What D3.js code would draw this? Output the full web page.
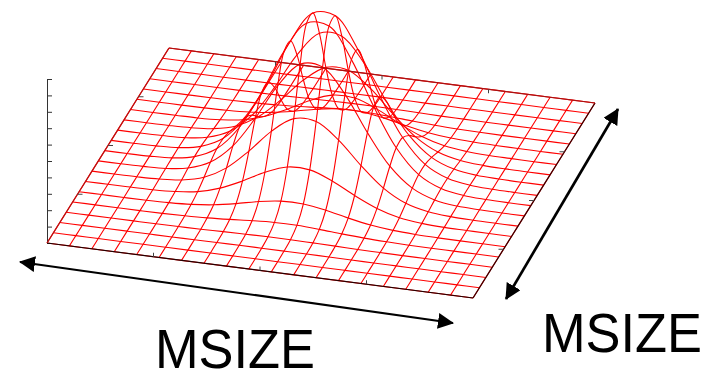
<!DOCTYPE html>
<html>
<head>
<meta charset="utf-8">
<script src="https://d3js.org/d3.v7.min.js"></script>
<style>
  html, body { margin: 0; padding: 0; background: #fff; }
  svg { display: block; }
</style>
</head>
<body>
<div id="chart"></div>
<script>
  // Surface heights, one row per grid line, front row first
  const row_a = [0, 0, 0, 0, 0, 0, 0, 0, 0, 0, 0, 0, 0, 0, 0, 0, 0, 0, 0, 0];
  const row_b = [0, 0, 0, 0, 0, 0, .001, .001, .002, .002, .002, .002, .001, .001, 0, 0, 0, 0, 0, 0];
  const row_c = [0, 0, 0, 0, 0, .001, .002, .005, .007, .009, .009, .007, .005, .002, .001, 0, 0, 0, 0, 0];
  const row_d = [0, 0, 0, 0, .001, .004, .009, .017, .027, .034, .034, .027, .017, .009, .004, .001, 0, 0, 0, 0];
  const row_e = [0, 0, 0, .001, .004, .011, .026, .051, .081, .101, .101, .081, .051, .026, .011, .004, .001, 0, 0, 0];
  const row_f = [0, 0, .001, .002, .009, .026, .065, .126, .197, .247, .247, .197, .126, .065, .026, .009, .002, .001, 0, 0];
  const row_g = [0, 0, .001, .005, .017, .051, .126, .246, .384, .479, .479, .384, .246, .126, .051, .017, .005, .001, 0, 0];
  const row_h = [0, 0, .002, .007, .027, .081, .197, .384, .600, .749, .749, .600, .384, .197, .081, .027, .007, .002, 0, 0];
  const row_i = [0, 0, .002, .009, .034, .101, .247, .479, .749, .936, .936, .749, .479, .247, .101, .034, .009, .002, 0, 0];

  const heights = [row_a, row_a, row_b, row_c, row_d, row_e, row_f, row_g, row_h, row_i,
                   row_i, row_h, row_g, row_f, row_e, row_d, row_c, row_b, row_a, row_a];
  const z_ticks = [0, .1, .2, .3, .4, .5, .6, .7, .8, .9, 1];
  const edge_ticks = [.25, .5, .75];
  const axis_title = "MSIZE";

  //=========================================================================
  // Set Dimensions
  //=========================================================================

  var width = 717,
      height = 373;

  var svg = d3.select("#chart")
    .append("svg")
    .attr("width", width)
    .attr("height", height);

  var n_grid = heights.length - 1;

  //=========================================================================
  // Define Scales (oblique projection, front left corner is the origin)
  //=========================================================================

  var origin = { x: 47, y: 243 };

  var x_across = d3.scaleLinear().domain([0, n_grid]).range([0, 426]),
      y_across = d3.scaleLinear().domain([0, n_grid]).range([0, 55]),
      x_depth = d3.scaleLinear().domain([0, n_grid]).range([0, 122]),
      y_depth = d3.scaleLinear().domain([0, n_grid]).range([0, -195]),
      z_scale = d3.scaleLinear().domain([0, 1]).range([origin.y, 79]);

  function project(i, j, z){
    return [origin.x + x_across(i) + x_depth(j),
            z_scale(z) + y_across(i) + y_depth(j)];
  }

  var line = d3.line().curve(d3.curveCatmullRom.alpha(0.5));

  //=========================================================================
  // Surface
  //=========================================================================

  var gMesh = svg.append("g")
    .attr("fill", "none")
    .attr("stroke", "#f00")
    .attr("stroke-width", 1.1);

  // lines across
  gMesh.selectAll("path.across")
    .data(heights)
    .enter()
    .append("path")
    .attr("class", "across")
    .attr("d", (row, j) => line(row.map((z, i) => project(i, j, z))));

  // lines in depth
  gMesh.selectAll("path.depth")
    .data(d3.range(n_grid + 1))
    .enter()
    .append("path")
    .attr("class", "depth")
    .attr("d", (i) => line(heights.map((row, j) => project(i, j, row[i]))));

  //=========================================================================
  // Axes and base frame
  //=========================================================================

  svg.append("g")
    .attr("transform", `translate(${origin.x},0)`)
    .call(d3.axisRight(z_scale).tickValues(z_ticks).tickFormat("").tickSize(5).tickSizeOuter(0))
    .call((g) => g.selectAll("path, line").attr("stroke", "#333"));

  // front and right edges are black, back and left are darker red
  var corners = [project(0, 0, 0), project(n_grid, 0, 0), project(n_grid, n_grid, 0), project(0, n_grid, 0)];
  var frame = [
    { a: corners[0], b: corners[1], color: "#200" },
    { a: corners[1], b: corners[2], color: "#300" },
    { a: corners[2], b: corners[3], color: "#a11" },
    { a: corners[3], b: corners[0], color: "#b11" }
  ];

  svg.selectAll("line.frame")
    .data(frame)
    .enter()
    .append("line")
    .attr("class", "frame")
    .attr("x1", (d) => d.a[0])
    .attr("y1", (d) => d.a[1])
    .attr("x2", (d) => d.b[0])
    .attr("y2", (d) => d.b[1])
    .attr("stroke", (d) => d.color)
    .attr("stroke-width", 1.25);

  // small inward ticks on the base frame
  var tick_marks = [];
  edge_ticks.forEach((t) => {
    var s = t * n_grid;
    tick_marks.push({ p: project(s, 0, 0), dx: 0, dy: -4 });
    tick_marks.push({ p: project(s, n_grid, 0), dx: 0, dy: 4 });
    tick_marks.push({ p: project(0, s, 0), dx: 5, dy: 0 });
    tick_marks.push({ p: project(n_grid, s, 0), dx: -5, dy: 0 });
  });

  svg.selectAll("line.edge-tick")
    .data(tick_marks)
    .enter()
    .append("line")
    .attr("class", "edge-tick")
    .attr("x1", (d) => d.p[0])
    .attr("y1", (d) => d.p[1])
    .attr("x2", (d) => d.p[0] + d.dx)
    .attr("y2", (d) => d.p[1] + d.dy)
    .attr("stroke", "#444")
    .attr("stroke-width", 1);

  //=========================================================================
  // Arrows and labels
  //=========================================================================

  svg.append("defs")
    .append("marker")
    .attr("id", "head")
    .attr("viewBox", "0 0 16 16")
    .attr("refX", 15)
    .attr("refY", 8)
    .attr("markerUnits", "userSpaceOnUse")
    .attr("markerWidth", 16)
    .attr("markerHeight", 16)
    .attr("orient", "auto-start-reverse")
    .append("path")
    .attr("d", "M0,0L16,8L0,16Z")
    .attr("fill", "#000");

  var arrows = [
    { x1: 20, y1: 262, x2: 453, y2: 323, w: 2.2 },
    { x1: 618, y1: 109, x2: 506, y2: 299, w: 2.7 }
  ];

  svg.selectAll("line.arrow")
    .data(arrows)
    .enter()
    .append("line")
    .attr("class", "arrow")
    .attr("x1", (d) => d.x1)
    .attr("y1", (d) => d.y1)
    .attr("x2", (d) => d.x2)
    .attr("y2", (d) => d.y2)
    .attr("stroke", "#000")
    .attr("stroke-width", (d) => d.w)
    .attr("marker-start", "url(#head)")
    .attr("marker-end", "url(#head)");

  svg.selectAll("text.title")
    .data([{ x: 155, y: 368 }, { x: 542, y: 352 }])
    .enter()
    .append("text")
    .attr("class", "title")
    .attr("x", (d) => d.x)
    .attr("y", (d) => d.y)
    .attr("font-family", "Liberation Sans, Arial, sans-serif")
    .attr("font-size", 55)
    .attr("textLength", 160)
    .attr("lengthAdjust", "spacingAndGlyphs")
    .attr("fill", "#000")
    .text(axis_title);
</script>
</body>
</html>
